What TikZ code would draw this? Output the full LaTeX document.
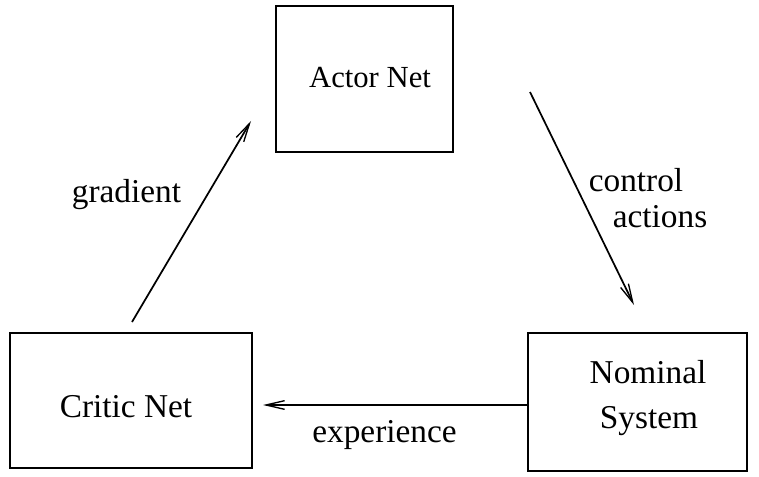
\documentclass[tikz,border=0pt]{standalone}
\usepackage{fontspec}
\setmainfont{Liberation Serif}
\usetikzlibrary{arrows.meta}
\begin{document}
\begin{tikzpicture}[x=0.75pt,y=-0.75pt,
  every node/.style={font=\fontsize{25}{30}\selectfont},
  block/.style={draw,line width=1.5pt,rectangle,inner sep=0pt},
  flow/.style={line width=1.3pt,-{Straight Barb[length=14pt,width=6.5pt,line width=1pt]}},
  lbl/.style={inner sep=0pt,anchor=base}]
\useasboundingbox (0,0) rectangle (759,477);

% blocks
\node[block,minimum width=132.75pt,minimum height=109.5pt] (actor) at (364.5,79) {};
\node[block,minimum width=181.5pt,minimum height=101.25pt] (critic) at (131,400.5) {};
\node[block,minimum width=164.25pt,minimum height=103.5pt] (nominal) at (637.5,402) {};

% block titles
\node[lbl,font=\fontsize{23}{28}\selectfont] (actortxt) at (370,88) {Actor Net};
\node[lbl] (critictxt) at (126,417) {Critic Net};
\node[lbl] (nomtxt1) at (648,383) {Nominal};
\node[lbl] (nomtxt2) at (649,428) {System};

% connector end points
\coordinate (g1) at (132,322);
\coordinate (g2) at (251,121);
\coordinate (c1) at (530,92);
\coordinate (c2) at (634,305);
\coordinate (e1) at (528,405);
\coordinate (e2) at (263,405);

% connectors
\draw[flow] (g1) -- (g2);
\draw[flow] (c1) -- (c2);
\draw[flow] (e1) -- (e2);

% connector labels
\node[lbl] (grad) at (126.5,203) {gradient};
\node[lbl] (ctrl1) at (636,192) {control};
\node[lbl] (ctrl2) at (660,227) {actions};
\node[lbl] (exper) at (384.5,442) {experience};
\end{tikzpicture}
\end{document}
